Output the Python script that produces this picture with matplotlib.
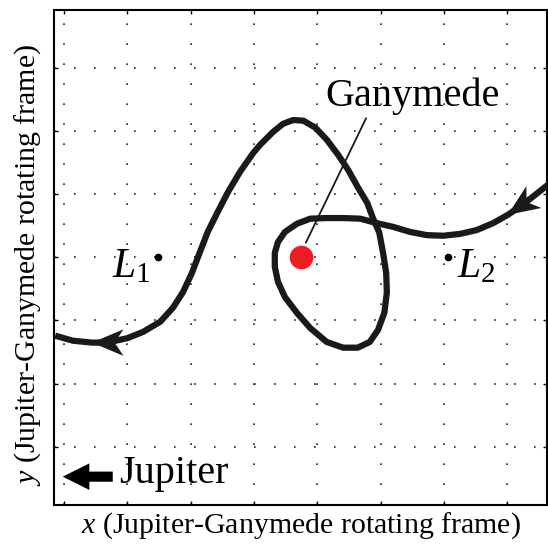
import numpy as np
import matplotlib
matplotlib.use('Agg')
import matplotlib.pyplot as plt
from matplotlib.patches import Polygon

plt.rcParams['font.family'] = ['Liberation Serif', 'DejaVu Serif']
plt.rcParams['mathtext.fontset'] = 'custom'
plt.rcParams['mathtext.rm'] = 'Liberation Serif'
plt.rcParams['mathtext.it'] = 'Liberation Serif:italic'

# trajectory in the rotating frame (grid units), from right entry to left exit
traj_x = [7.65, 7.41, 7.20, 7.01, 6.78, 6.52, 6.26, 5.99, 5.73, 5.47, 5.20, 4.94,
          4.68, 4.41, 4.15, 3.89, 3.68, 3.49, 3.38, 3.33, 3.33, 3.38, 3.49, 3.68,
          3.89, 4.15, 4.41, 4.64, 4.83, 4.96, 5.06, 5.10, 5.09, 5.04, 4.98, 4.88,
          4.79, 4.64, 4.49, 4.33, 4.15, 3.97, 3.78, 3.62, 3.46, 3.30, 3.10, 2.99,
          2.78, 2.59, 2.43, 2.27, 2.15, 2.02, 1.88, 1.72, 1.52, 1.25, 1.00, 0.68,
          0.44, 0.14, -0.14]
traj_y = [4.15, 3.96, 3.80, 3.67, 3.54, 3.43, 3.37, 3.34, 3.35, 3.40, 3.48, 3.54,
          3.61, 3.62, 3.62, 3.61, 3.53, 3.40, 3.24, 3.07, 2.85, 2.61, 2.37, 2.12,
          1.88, 1.66, 1.57, 1.57, 1.66, 1.85, 2.12, 2.44, 2.75, 3.07, 3.39, 3.62,
          3.86, 4.11, 4.38, 4.62, 4.86, 5.05, 5.16, 5.17, 5.11, 4.98, 4.78, 4.65,
          4.35, 4.03, 3.72, 3.40, 3.09, 2.75, 2.45, 2.20, 1.98, 1.82, 1.72, 1.65,
          1.65, 1.68, 1.76]
arrow_idx = [3, 60]  # arrowheads placed at these trajectory points

ganymede = (3.74, 3.0)
L1 = (1.49, 3.0)
L2 = (6.07, 3.0)
grid_x = np.arange(0, 8)
grid_y = np.arange(0, 7)


def stealth(ax, i, length=0.50, half=0.21, notch=0.14):
    tip = np.array([traj_x[i], traj_y[i]])
    prev = np.array([traj_x[i - 1], traj_y[i - 1]])
    d = (tip - prev) / np.linalg.norm(tip - prev)
    n = np.array([-d[1], d[0]])
    back = tip - d * length
    pts = [tip, back + n * half, tip - d * (length - notch), back - n * half]
    ax.add_patch(Polygon(pts, closed=True, color='#1a1a1a', lw=0, zorder=4))


fig = plt.figure(figsize=(5.48, 5.48), dpi=100)
ax = fig.add_axes([54 / 548, 43 / 548, 493 / 548, 495 / 548])

for gx in grid_x:
    ax.axvline(gx, color='#222222', lw=1.2, dashes=(1, 11), zorder=0)
for gy in grid_y:
    ax.axhline(gy, color='#222222', lw=1.2, dashes=(1, 11), zorder=0)

ax.plot(traj_x, traj_y, color='#1a1a1a', lw=4.5, solid_joinstyle='round',
        solid_capstyle='butt', zorder=3)
for i in arrow_idx:
    stealth(ax, i)

ax.plot(*ganymede, 'o', color='#ee1c25', ms=17, mec='none', zorder=5)
ax.plot([L1[0], L2[0]], [L1[1], L2[1]], 'o', color='black', ms=4.5, zorder=5)
ax.text(L1[0] - 0.13, L1[1] - 0.31, r'$L_1$', fontsize=30, ha='right', va='baseline')
ax.text(L2[0] + 0.14, L2[1] - 0.31, r'$L_2$', fontsize=30, ha='left', va='baseline')

ax.annotate('Ganymede', xy=(3.82, 3.23), xytext=(5.51, 5.54), fontsize=29,
            ha='center', va='center',
            arrowprops=dict(arrowstyle='-', lw=1.3, color='#1a1a1a',
                            relpos=(0.24, 0.0), shrinkA=0, shrinkB=0))

ax.arrow(0.77, -0.47, -0.79, 0, width=0.16, head_width=0.42, head_length=0.42,
         length_includes_head=True, color='black', lw=0, zorder=4)
ax.text(0.87, -0.57, 'Jupiter', fontsize=29, ha='left', va='baseline')

ax.set_xlim(-0.158, 7.63)
ax.set_ylim(-0.918, 6.91)
ax.set_xticks(grid_x)
ax.set_yticks(grid_y)
ax.set_xticklabels([])
ax.set_yticklabels([])
ax.tick_params(direction='in', length=3, width=1, top=True, right=True)
for s in ax.spines.values():
    s.set_linewidth(1.5)

ax.set_xlabel(r'$x$ (Jupiter-Ganymede rotating frame)', fontsize=21.5)
ax.set_ylabel(r'$y$ (Jupiter-Ganymede rotating frame)', fontsize=21.5)
ax.xaxis.set_label_coords(0.5, -0.01)
ax.yaxis.set_label_coords(-0.022, 0.485)

fig.savefig('out.png', dpi=100)
